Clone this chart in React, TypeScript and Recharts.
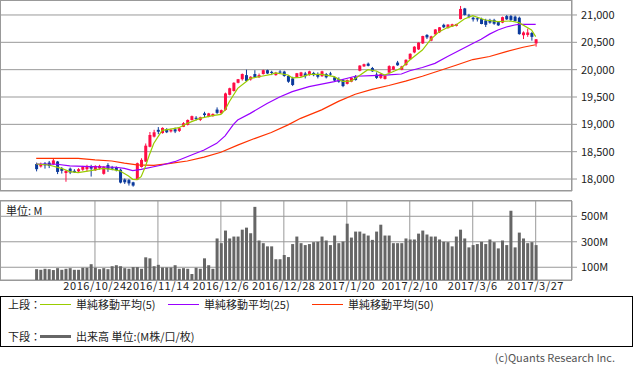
import React from 'react';
import { ComposedChart, Bar, Line, XAxis, YAxis, CartesianGrid } from 'recharts';

// daily candles, 2016/10/3 .. 2017/3/27 (120 sessions)
const OPEN = [
  18275, 18230, 18285, 18300, 18270, 18320, 18190, 18110, 18190, 18150,
  18140, 18170, 18180, 18220, 18160, 18195, 18095, 18255, 18215, 18215,
  18170, 17990, 17980, 17940, 17990, 18220, 18320, 18590, 18775, 18900,
  18840, 18915, 18870, 18910, 18880, 18955, 18990, 19080, 19120, 19080,
  19200, 19140, 19150, 19270, 19200, 19265, 19540, 19610, 19760, 19825,
  19900, 19820, 19920, 19860, 19920, 19990, 19960, 19900, 19965, 19965,
  19885, 19840, 19860, 19880, 19930, 19900, 19940, 19920, 19880, 19920,
  19930, 19860, 19830, 19810, 19740, 19780, 19870, 19980, 20060, 20110,
  20030, 19910, 19850, 19830, 19945, 20000, 20130, 20000, 20085, 20190,
  20315, 20370, 20480, 20635, 20530, 20645, 20685, 20820, 20760, 20790,
  20800, 20925, 21120, 20990, 20950, 20940, 20925, 20900, 20910, 20910,
  20870, 20860, 20980, 20980, 20970, 20950, 20630, 20635, 20670, 20480,
];
const HIGH = [
  18300, 18300, 18310, 18330, 18370, 18330, 18220, 18160, 18210, 18180,
  18200, 18240, 18260, 18260, 18250, 18260, 18235, 18290, 18240, 18230,
  18190, 18010, 18000, 17950, 18300, 18380, 18650, 18860, 18900, 18950,
  18945, 18930, 18920, 18940, 18950, 19040, 19090, 19160, 19150, 19140,
  19230, 19210, 19200, 19310, 19270, 19580, 19670, 19770, 19830, 19930,
  20000, 19880, 19990, 19930, 20000, 20000, 19980, 19960, 19990, 19980,
  19900, 19870, 19940, 19960, 19960, 19980, 19960, 19950, 19980, 19940,
  19960, 19880, 19860, 19830, 19820, 19860, 19900, 20080, 20110, 20130,
  20050, 19950, 19930, 19900, 20080, 20070, 20160, 20070, 20190, 20300,
  20430, 20500, 20620, 20650, 20620, 20740, 20780, 20840, 20830, 20840,
  20840, 21165, 21130, 21020, 20970, 20960, 20950, 20930, 20930, 20930,
  20890, 20970, 21000, 21000, 20990, 20970, 20700, 20750, 20690, 20560,
];
const LOW = [
  18140, 18210, 18190, 18200, 18260, 18090, 18100, 17950, 18090, 18110,
  18120, 18150, 18140, 18045, 18150, 18170, 18080, 18130, 18160, 18140,
  17920, 17910, 17880, 17860, 17980, 18210, 18310, 18580, 18760, 18820,
  18830, 18840, 18850, 18840, 18860, 18950, 18980, 19070, 19070, 19060,
  19130, 19130, 19140, 19190, 19190, 19250, 19530, 19600, 19750, 19800,
  19780, 19800, 19850, 19850, 19910, 19920, 19900, 19890, 19930, 19870,
  19760, 19700, 19850, 19870, 19840, 19890, 19880, 19840, 19870, 19840,
  19890, 19780, 19760, 19680, 19730, 19770, 19800, 19970, 20050, 20060,
  19960, 19830, 19830, 19820, 19940, 19990, 20070, 19990, 20070, 20180,
  20300, 20360, 20470, 20560, 20520, 20630, 20670, 20760, 20750, 20780,
  20790, 20920, 20990, 20940, 20880, 20880, 20830, 20780, 20840, 20820,
  20800, 20850, 20910, 20890, 20880, 20640, 20560, 20600, 20530, 20420,
];
const CLOSE = [
  18180, 18275, 18250, 18240, 18340, 18130, 18150, 18150, 18120, 18125,
  18180, 18225, 18225, 18190, 18240, 18240, 18225, 18180, 18190, 18160,
  17935, 17940, 17920, 17880, 18290, 18350, 18610, 18805, 18855, 18865,
  18935, 18855, 18900, 18870, 18930, 19020, 19080, 19150, 19100, 19130,
  19170, 19200, 19190, 19210, 19260, 19565, 19660, 19760, 19825, 19920,
  19795, 19870, 19860, 19900, 19990, 19930, 19940, 19945, 19955, 19885,
  19780, 19720, 19935, 19950, 19880, 19970, 19900, 19870, 19970, 19860,
  19910, 19800, 19780, 19700, 19810, 19850, 19810, 20075, 20100, 20070,
  19970, 19850, 19920, 19890, 20065, 20060, 20080, 20060, 20180, 20290,
  20420, 20495, 20615, 20590, 20610, 20735, 20775, 20775, 20825, 20830,
  20835, 21110, 21000, 20970, 20920, 20920, 20835, 20820, 20860, 20840,
  20810, 20960, 20920, 20910, 20890, 20650, 20680, 20680, 20600, 20555,
];
// volume, millions
const VOLUME = [
  85, 80, 88, 85, 78, 93, 80, 88, 93, 80,
  80, 96, 96, 124, 96, 85, 93, 85, 108, 116,
  108, 93, 88, 101, 101, 88, 178, 170, 108, 119,
  98, 98, 98, 116, 88, 93, 88, 47, 96, 88,
  170, 116, 88, 326, 289, 388, 326, 341, 341, 395,
  411, 367, 574, 310, 289, 264, 264, 163, 163, 196,
  180, 282, 341, 289, 274, 282, 297, 300, 341, 310,
  274, 349, 289, 302, 442, 333, 380, 380, 364, 349,
  315, 380, 434, 349, 349, 289, 289, 289, 326, 318,
  318, 364, 388, 357, 341, 341, 318, 300, 297, 264,
  341, 395, 326, 256, 274, 282, 300, 282, 318, 297,
  248, 310, 274, 543, 256, 372, 326, 289, 297, 274,
];

// moving averages: [session index, value]
const MA5 = [
  [0, 18275], [3, 18257], [6, 18196], [8, 18135], [10, 18116], [13, 18153], [16, 18196],
  [18, 18177], [20, 18147], [22, 18055], [23, 17995], [24, 17990], [25, 18043], [26, 18226],
  [27, 18450], [28, 18650], [30, 18890], [32, 18914], [34, 18939], [36, 19018], [39, 19110],
  [42, 19158], [44, 19183], [45, 19262], [46, 19414], [48, 19658], [50, 19780], [51, 19841],
  [54, 19884], [56, 19914], [57, 19940], [60, 19903], [61, 19850], [63, 19860], [65, 19915],
  [68, 19915], [71, 19872], [73, 19785], [75, 19790], [76, 19840], [79, 20000], [81, 19975],
  [83, 19900], [84, 19930], [87, 20030], [89, 20177], [92, 20359], [94, 20555], [96, 20695],
  [98, 20770], [100, 20817], [102, 20926], [104, 20987], [107, 20908], [110, 20878],
  [113, 20890], [115, 20859], [118, 20725], [119, 20603],
];
const MA25 = [
  [0, 18275], [5, 18270], [8, 18240], [13, 18226], [19, 18215], [21, 18195], [23, 18155],
  [25, 18175], [28, 18225], [30, 18256], [33, 18317], [37, 18440], [40, 18530], [43, 18652],
  [45, 18790], [47, 19000], [48, 19079], [51, 19201], [55, 19380], [58, 19500], [61, 19598],
  [65, 19690], [71, 19781], [76, 19880], [80, 19890], [84, 19905], [87, 19921], [89, 19980],
  [92, 20040], [95, 20115], [98, 20240], [101, 20360], [104, 20480], [106, 20555],
  [108, 20650], [110, 20725], [112, 20780], [114, 20817], [115, 20829], [119, 20829],
];
const MA50 = [
  [0, 18378], [10, 18378], [14, 18350], [18, 18330], [21, 18290], [24, 18260], [28, 18250],
  [32, 18285], [36, 18330], [40, 18400], [44, 18490], [48, 18620], [52, 18740], [56, 18850],
  [60, 18990], [63, 19110], [68, 19265], [72, 19420], [76, 19550], [80, 19640], [84, 19710],
  [88, 19790], [92, 19880], [96, 19980], [100, 20080], [104, 20185], [108, 20240],
  [112, 20330], [116, 20410], [119, 20455],
];

const TICK_IDX = [14, 29, 44, 59, 74, 89, 104, 119];
const TICK_LABELS = ['2016/10/24', '2016/11/14', '2016/12/6', '2016/12/28', '2017/1/20', '2017/2/10', '2017/3/6', '2017/3/27'];
const PRICE_TICKS = [18000, 18500, 19000, 19500, 20000, 20500, 21000];
const VOL_TICKS = [100, 200, 300, 400, 500];

const RED = '#ff0d45';
const BLUE = '#0b3a9c';
const GRID = '#999999';
const FONT = "'Noto Sans CJK JP', 'Noto Sans', sans-serif";

const data = OPEN.map((o, i) => ({
  i,
  open: o,
  close: CLOSE[i],
  range: [LOW[i], HIGH[i]],
  vol: VOLUME[i],
}));
const toRows = (pts: number[][]) => pts.map(([i, v]) => ({ i, v }));
const ma5Rows = toRows(MA5);
const ma25Rows = toRows(MA25);
const ma50Rows = toRows(MA50);

const Candle = (props: any) => {
  const { x, y, width, height, payload } = props;
  const [lo, hi] = payload.range;
  const toY = (v: number) => (hi === lo ? y : y + ((hi - v) / (hi - lo)) * height);
  const color = payload.close >= payload.open ? RED : BLUE;
  const yo = toY(payload.open);
  const yc = toY(payload.close);
  const cx = x + width / 2;
  return (
    <g>
      <line x1={cx} x2={cx} y1={y} y2={y + height} stroke={color} strokeWidth={1} />
      <rect x={x} y={Math.min(yo, yc)} width={width} height={Math.max(Math.abs(yo - yc), 1)} fill={color} />
    </g>
  );
};

const tickStyle = { fontSize: 11, fill: '#222', fontFamily: FONT };
const xPad = { left: 34.1, right: 34.2 };

const legendText: React.CSSProperties = { position: 'absolute', fontSize: 11, lineHeight: '14px', color: '#222', whiteSpace: 'nowrap' };
const legendLine = (left: number, top: number, color: string, h = 1) => (
  <div style={{ position: 'absolute', left, top, width: 31, height: h, background: color }} />
);

export default function App() {
  return (
    <div style={{ position: 'absolute', left: 0, top: 0, width: 633, height: 368, background: '#fff', fontFamily: FONT }}>
      {/* price panel */}
      <div style={{ position: 'absolute', left: 0, top: 0 }}>
        <ComposedChart width={633} height={200} data={data} margin={{ top: 0, right: 0, bottom: 9, left: 0 }}>
          <CartesianGrid stroke={GRID} strokeWidth={1} />
          <XAxis
            dataKey="i"
            allowDuplicatedCategory={false}
            ticks={TICK_IDX}
            interval={0}
            padding={xPad}
            height={0}
            tick={false}
            axisLine={false}
            tickLine={false}
          />
          <YAxis
            orientation="right"
            width={61}
            domain={[17781, 21274]}
            allowDataOverflow
            ticks={PRICE_TICKS}
            tickFormatter={(v: number) => v.toLocaleString('en-US')}
            tick={tickStyle}
            tickSize={5}
            tickMargin={4}
            tickLine={{ stroke: GRID }}
            axisLine={false}
          />
          <Line data={ma50Rows} dataKey="v" stroke="#ff3300" strokeWidth={1.2} dot={false} activeDot={false} isAnimationActive={false} />
          <Line data={ma25Rows} dataKey="v" stroke="#9900ff" strokeWidth={1.2} dot={false} activeDot={false} isAnimationActive={false} />
          <Line data={ma5Rows} dataKey="v" stroke="#99cc00" strokeWidth={1.2} dot={false} activeDot={false} isAnimationActive={false} />
          <Bar dataKey="range" barSize={3} shape={Candle} isAnimationActive={false} />
        </ComposedChart>
        <div style={{ position: 'absolute', left: 0, top: 0, width: 572, height: 191, border: `1px solid ${GRID}`, boxSizing: 'border-box', pointerEvents: 'none' }} />
      </div>

      {/* volume panel */}
      <div style={{ position: 'absolute', left: 0, top: 200 }}>
        <ComposedChart width={633} height={100} data={data} margin={{ top: 1, right: 0, bottom: 0, left: 0 }}>
          <CartesianGrid stroke={GRID} strokeWidth={1} />
          <XAxis
            dataKey="i"
            ticks={TICK_IDX}
            interval={0}
            padding={xPad}
            height={20}
            tickFormatter={(v: number) => TICK_LABELS[TICK_IDX.indexOf(v)] ?? ''}
            tick={{ ...tickStyle, letterSpacing: 0.6 }}
            tickSize={0}
            tickMargin={2}
            axisLine={false}
            tickLine={false}
          />
          <YAxis
            orientation="right"
            width={61}
            domain={[0, 620]}
            allowDataOverflow
            ticks={VOL_TICKS}
            tickFormatter={(v: number) => `${v}M`}
            tick={tickStyle}
            tickSize={5}
            tickMargin={4}
            tickLine={{ stroke: GRID }}
            axisLine={false}
          />
          <Bar dataKey="vol" barSize={3} fill="#666666" isAnimationActive={false} />
        </ComposedChart>
        <div style={{ position: 'absolute', left: 0, top: 0, width: 572, height: 81, border: `1px solid ${GRID}`, boxSizing: 'border-box', pointerEvents: 'none' }} />
        <div style={{ ...legendText, left: 6, top: 3 }}>単位: M</div>
      </div>

      {/* legend */}
      <div style={{ position: 'absolute', left: 0, top: 296, width: 633, height: 51, border: '1px solid #000', boxSizing: 'border-box' }}>
        <div style={{ ...legendText, left: 7, top: 0 }}>上段：</div>
        {legendLine(39, 7, '#99cc00')}
        <div style={{ ...legendText, left: 75, top: 0 }}>単純移動平均(5)</div>
        {legendLine(167, 7, '#9900ff')}
        <div style={{ ...legendText, left: 203, top: 0 }}>単純移動平均(25)</div>
        {legendLine(311, 7, '#ff3300')}
        <div style={{ ...legendText, left: 347, top: 0 }}>単純移動平均(50)</div>
        <div style={{ ...legendText, left: 7, top: 32 }}>下段：</div>
        {legendLine(39, 38, '#666666', 3)}
        <div style={{ ...legendText, left: 75, top: 32 }}>出来高 単位:(M株/口/枚)</div>
      </div>

      <div style={{ position: 'absolute', right: 18, top: 350, fontSize: 11, lineHeight: '14px', color: '#555' }}>(c)Quants Research Inc.</div>
    </div>
  );
}
